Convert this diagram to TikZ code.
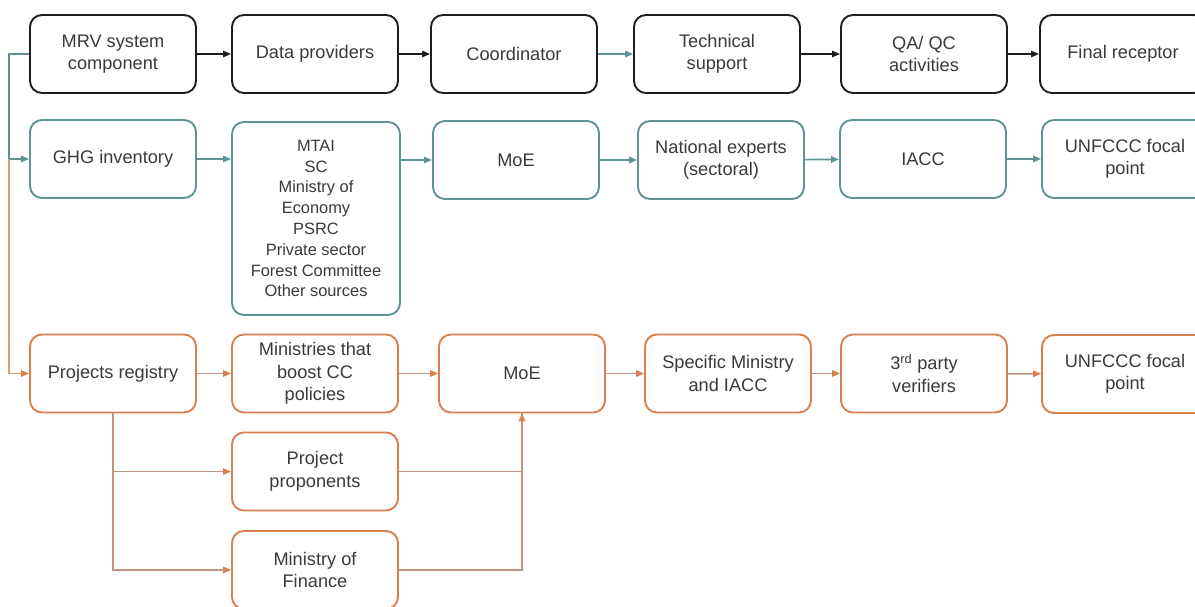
\documentclass[tikz,border=0pt]{standalone}
\usepackage{fontspec}
\setmainfont{Liberation Sans}
\usetikzlibrary{arrows.meta}

\definecolor{inkC}{HTML}{3A3A3A}
\definecolor{frameK}{HTML}{1E1E1E}
\definecolor{tealC}{HTML}{5E9494}
\definecolor{orangeC}{HTML}{D9804F}
\definecolor{linkC}{HTML}{C09484}

\begin{document}
\begin{tikzpicture}[x=1pt,y=-1pt,
  box/.style={rounded corners=12pt, line width=1.9pt, minimum width=166pt,
    minimum height=78pt, align=center, text=inkC, inner sep=2pt,
    font=\fontsize{18.2}{22.5}\selectfont},
  kbox/.style={box, draw=frameK},
  tbox/.style={box, draw=tealC},
  obox/.style={box, draw=orangeC},
  tip/.style={-{Triangle[length=8pt,width=6.5pt]}},
  karr/.style={tip, draw=frameK, line width=1.3pt},
  tarr/.style={tip, draw=tealC, line width=1.6pt},
  oarr/.style={-{Triangle[length=8pt,width=6.5pt,color=orangeC]}, draw=linkC, line width=1.6pt},
  oline/.style={draw=linkC, line width=1.6pt},
  vline/.style={-{Triangle[length=8pt,width=6.5pt,color=orangeC]}, draw=orangeC!80!white, line width=1.6pt}
]
\useasboundingbox (0,0) rectangle (1195,607);
\clip (0,0) rectangle (1195,607);
\fill[white] (0,0) rectangle (1195,607);

% header row
\node[kbox] (mrv)   at (113,54)  {MRV system\\component};
\node[kbox] (dp)    at (315,54)  {Data providers};
\node[kbox] (coord) at (514,54)  {Coordinator};
\node[kbox] (tech)  at (717,54)  {Technical\\support};
\node[kbox] (qa)    at (924,54)  {QA/ QC\\activities};
\node[kbox] (fin0)  at (1123,54) {Final receptor};

% GHG inventory row
\node[tbox] (ghg)   at (113,159) {GHG inventory};
\node[tbox, minimum width=168pt, minimum height=193pt,
      font=\fontsize{16.4}{20.8}\selectfont] (src) at (316,218.5)
  {MTAI\\SC\\Ministry of\\Economy\\PSRC\\Private sector\\Forest Committee\\Other sources};
\node[tbox] (moe1)  at (516,160) {MoE};
\node[tbox] (nat)   at (721,160) {National experts\\(sectoral)};
\node[tbox] (iacc)  at (923,159) {IACC};
\node[tbox] (unf1)  at (1125,159) {UNFCCC focal\\point};

% projects registry row
\node[obox] (reg)   at (113,373.5) {Projects registry};
\node[obox] (mins)  at (315,373.5) {Ministries that\\boost CC\\policies};
\node[obox] (moe2)  at (522,373.5) {MoE};
\node[obox] (spec)  at (728,373.5) {Specific Ministry\\and IACC};
\node[obox] (ver)   at (924,373.5) {3\textsuperscript{rd} party\\verifiers};
\node[obox] (unf2)  at (1125,374)  {UNFCCC focal\\point};
\node[obox] (prop)  at (315,471.5) {Project\\proponents};
\node[obox] (mof)   at (315,570)   {Ministry of\\Finance};

% header row links
\draw[karr] (mrv) -- (dp);
\draw[karr] (dp) -- (coord);
\draw[tarr] (coord) -- (tech);
\draw[karr] (tech) -- (qa);
\draw[karr] (qa) -- (fin0);

% GHG row links
\draw[tarr] (ghg) -- (ghg -| src.west);
\draw[tarr] (moe1 -| src.east) -- (moe1);
\draw[tarr] (moe1) -- (nat);
\draw[tarr] (nat) -- (iacc);
\draw[tarr] (iacc) -- (unf1);

% left trunk
\coordinate (trunk) at (9,159);
\draw[tarr] (mrv.west) -| (trunk) -- (ghg.west);
\draw[vline] (trunk) |- (reg.west);

% registry row links
\draw[oarr] (reg) -- (mins);
\draw[oarr] (mins) -- (moe2);
\draw[oarr] (moe2) -- (spec);
\draw[oarr] (spec) -- (ver);
\draw[oarr] (ver) -- (unf2);

% registry branches
\draw[oarr] (reg.south) |- (prop.west);
\draw[oarr] (reg.south) |- (mof.west);
\draw[oline] (mof.east) -| (moe2.south);
\draw[oarr] (prop.east) -| (moe2.south);
\end{tikzpicture}
\end{document}
